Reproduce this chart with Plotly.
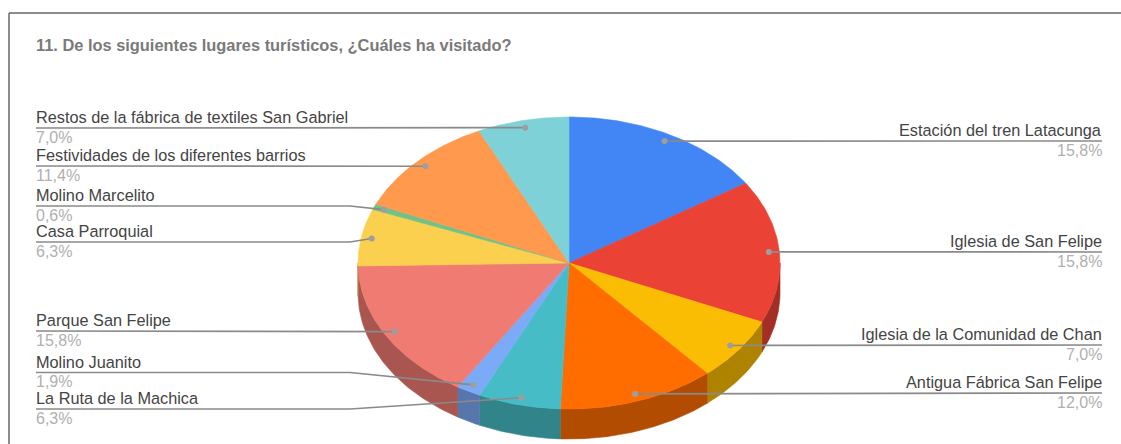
import math
import plotly.graph_objects as go

# Survey results, clockwise from twelve o'clock
places = [
    "Estación del tren Latacunga",
    "Iglesia de San Felipe",
    "Iglesia de la Comunidad de Chan",
    "Antigua Fábrica San Felipe",
    "La Ruta de la Machica",
    "Molino Juanito",
    "Parque San Felipe",
    "Casa Parroquial",
    "Molino Marcelito",
    "Festividades de los diferentes barrios",
    "Restos de la fábrica de textiles San Gabriel",
]
shares = [15.8, 15.8, 7.0, 12.0, 6.3, 1.9, 15.8, 6.3, 0.6, 11.4, 7.0]
title_text = "11. De los siguientes lugares turísticos, ¿Cuáles ha visitado?"

colors = ["#4285f4", "#ea4335", "#fbbc04", "#ff6d01", "#46bdc6", "#7baaf7",
          "#f07b72", "#fcd04f", "#71c287", "#ff994d", "#7ed1d7"]

# Label rows: baseline of each leader's horizontal run, by side
leader_y = [141, 252, 345, 393, 409, 372.5, 331, 242, 206, 166, 128]
label_side = ["r", "r", "r", "r", "l", "l", "l", "l", "l", "l", "l"]

# Pie geometry in page pixels
CX, CY, RX, RY, DEPTH = 569, 263, 211, 146, 30
ANCHOR = 0.95
LEFT_X, RIGHT_X, ELBOW_X = 36, 1102, 350
TEXT_PAD = 2
FONT = "Liberation Sans, Arial, sans-serif"


def rim(angle, drop=0.0, scale=1.0):
    """Pixel position on the pie's rim for a clockwise angle from the top."""
    return (CX + RX * scale * math.sin(angle),
            CY - RY * scale * math.cos(angle) + drop)


def arc(a0, a1, drop=0.0):
    n = max(2, int(abs(a1 - a0) / 0.01))
    return [rim(a0 + (a1 - a0) * i / n, drop) for i in range(n + 1)]


def shade(hex_color, k=0.7):
    r, g, b = (int(hex_color[i:i + 2], 16) for i in (1, 3, 5))
    return f"rgb({int(r * k)},{int(g * k)},{int(b * k)})"


def polygon(points, color, width=0.6):
    xs = [p[0] for p in points] + [points[0][0]]
    ys = [p[1] for p in points] + [points[0][1]]
    return go.Scatter(x=xs, y=ys, mode="lines", fill="toself", fillcolor=color,
                      line=dict(color=color, width=width), hoverinfo="skip",
                      showlegend=False)


total = sum(shares)
edges = [0.0]
for v in shares:
    edges.append(edges[-1] + v / total * 2 * math.pi)

fig = go.Figure()

# Side wall, only where the slice faces the viewer
for i, c in enumerate(colors):
    a0, a1 = max(edges[i], math.pi / 2), min(edges[i + 1], 3 * math.pi / 2)
    if a1 > a0:
        fig.add_trace(polygon(arc(a0, a1) + arc(a1, a0, DEPTH), shade(c)))

# Top face
for i, c in enumerate(colors):
    fig.add_trace(polygon([(CX, CY)] + arc(edges[i], edges[i + 1]), c))

annotations = []


def text(x, y, s, color, size, anchor, bold=False):
    annotations.append(dict(
        x=x, y=y, xref="x", yref="y", text=f"<b>{s}</b>" if bold else s,
        showarrow=False, xanchor=anchor, yanchor="middle",
        xshift=TEXT_PAD if anchor == "right" else -TEXT_PAD,
        font=dict(family=FONT, size=size, color=color)))


# Leader lines, anchor dots and labels
for i, name in enumerate(places):
    mid = (edges[i] + edges[i + 1]) / 2
    ax, ay = rim(mid, scale=ANCHOR)
    y = leader_y[i]
    if label_side[i] == "r":
        xs, ys = [RIGHT_X, ax], [y, ay]
        tx, anchor = RIGHT_X, "right"
    else:
        xs, ys = [LEFT_X, ELBOW_X, ax], [y, y, ay]
        tx, anchor = LEFT_X, "left"
    fig.add_trace(go.Scatter(x=xs, y=ys, mode="lines",
                             line=dict(color="#8a8a8a", width=1.7),
                             hoverinfo="skip", showlegend=False))
    fig.add_trace(go.Scatter(x=[ax], y=[ay], mode="markers",
                             marker=dict(color="#9e9e9e", size=6),
                             hoverinfo="skip", showlegend=False))
    text(tx, y - 11, name, "#444444", 16.3, anchor)
    text(tx, y + 9, f"{shares[i]:.1f}".replace(".", ",") + "%", "#b0b0b0", 16, anchor)

text(36, 45, title_text, "#7a7a7a", 16.4, "left", bold=True)

fig.update_layout(
    width=1121, height=444,
    margin=dict(l=0, r=0, t=0, b=0),
    paper_bgcolor="white", plot_bgcolor="white",
    xaxis=dict(range=[0, 1121], visible=False, fixedrange=True),
    yaxis=dict(range=[444, 0], visible=False, fixedrange=True),
    annotations=annotations,
    shapes=[
        dict(type="line", xref="x", yref="y", x0=9, y0=13, x1=1121, y1=13,
             line=dict(color="#666666", width=1.5)),
        dict(type="line", xref="x", yref="y", x0=9, y0=13, x1=9, y1=444,
             line=dict(color="#666666", width=1.5)),
    ],
)

fig.write_html("out.html", config=dict(displayModeBar=False))
